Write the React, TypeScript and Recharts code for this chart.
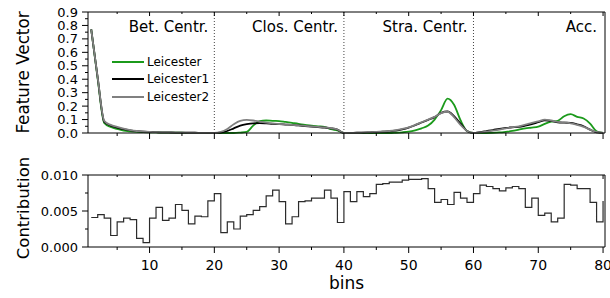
import {
  LineChart, Line, XAxis, YAxis, ReferenceLine, Legend
} from "recharts";

const FONT = "DejaVu Sans";

// bins 1..80 (4 features x 20 bins)
const bins = [
  1, 2, 3, 4, 5, 6, 7, 8, 9, 10, 11, 12, 13, 14, 15, 16, 17, 18, 19, 20,
  21, 22, 23, 24, 25, 26, 27, 28, 29, 30, 31, 32, 33, 34, 35, 36, 37, 38, 39, 40,
  41, 42, 43, 44, 45, 46, 47, 48, 49, 50, 51, 52, 53, 54, 55, 56, 57, 58, 59, 60,
  61, 62, 63, 64, 65, 66, 67, 68, 69, 70, 71, 72, 73, 74, 75, 76, 77, 78, 79, 80,
];

const leicester = [
  0.77, 0.40, 0.075, 0.045, 0.03, 0.018, 0.012, 0.008, 0.006, 0.005,
  0.004, 0.003, 0.003, 0.002, 0.002, 0.001, 0.001, 0.001, 0, 0,
  0, 0, 0, 0.003, 0.008, 0.055, 0.088, 0.093, 0.09, 0.089,
  0.082, 0.075, 0.068, 0.06, 0.055, 0.05, 0.046, 0.028, 0.02, 0,
  0, 0, 0, 0, 0, 0, 0, 0.002, 0.005, 0.01,
  0.02, 0.035, 0.055, 0.1, 0.17, 0.255, 0.21, 0.095, 0.015, 0,
  0, 0, 0.001, 0.004, 0.009, 0.015, 0.025, 0.035, 0.04, 0.047,
  0.068, 0.084, 0.09, 0.125, 0.14, 0.12, 0.108, 0.07, 0.012, 0,
];

const leicester1 = [
  0.77, 0.41, 0.085, 0.055, 0.04, 0.028, 0.02, 0.014, 0.01, 0.008,
  0.006, 0.005, 0.004, 0.003, 0.003, 0.002, 0.002, 0.001, 0.001, 0,
  0.003, 0.015, 0.035, 0.055, 0.066, 0.072, 0.073, 0.071, 0.068, 0.066,
  0.063, 0.06, 0.056, 0.052, 0.048, 0.044, 0.04, 0.035, 0.025, 0,
  0.001, 0.002, 0.003, 0.005, 0.007, 0.01, 0.013, 0.018, 0.027, 0.04,
  0.058, 0.078, 0.098, 0.118, 0.15, 0.16, 0.125, 0.07, 0.015, 0,
  0.006, 0.014, 0.022, 0.031, 0.038, 0.042, 0.046, 0.055, 0.066, 0.08,
  0.094, 0.09, 0.08, 0.077, 0.075, 0.064, 0.05, 0.025, 0.004, 0,
];

const leicester2 = [
  0.77, 0.41, 0.09, 0.06, 0.045, 0.032, 0.022, 0.015, 0.011, 0.008,
  0.006, 0.005, 0.004, 0.003, 0.003, 0.002, 0.002, 0.001, 0.001, 0,
  0.008, 0.03, 0.065, 0.09, 0.097, 0.093, 0.085, 0.077, 0.071, 0.067,
  0.063, 0.06, 0.057, 0.053, 0.049, 0.045, 0.041, 0.036, 0.026, 0,
  0.001, 0.002, 0.004, 0.006, 0.008, 0.011, 0.015, 0.021, 0.03, 0.042,
  0.06, 0.08, 0.1, 0.12, 0.148, 0.158, 0.118, 0.06, 0.015, 0,
  0.004, 0.01, 0.017, 0.025, 0.035, 0.043, 0.05, 0.062, 0.075, 0.086,
  0.1, 0.093, 0.083, 0.078, 0.072, 0.06, 0.045, 0.025, 0.008, 0,
];

const contribution = [
  0.0041, 0.0045, 0.0040, 0.0016, 0.0035, 0.0040, 0.0038, 0.0012, 0.0006, 0.0040,
  0.0055, 0.0037, 0.0040, 0.0059, 0.0051, 0.0032, 0.0043, 0.0042, 0.0064, 0.0074,
  0.0020, 0.0035, 0.0025, 0.0043, 0.0045, 0.0051, 0.0056, 0.0071, 0.0079, 0.0063,
  0.0032, 0.0042, 0.0063, 0.0064, 0.0068, 0.0068, 0.0079, 0.0068, 0.0034, 0.0077,
  0.0063, 0.0077, 0.0070, 0.0074, 0.0087, 0.0088, 0.0090, 0.0090, 0.0093, 0.0094,
  0.0094, 0.0095, 0.0081, 0.0062, 0.0066, 0.0059, 0.0076, 0.0068, 0.0062, 0.0074,
  0.0086, 0.0084, 0.0081, 0.0078, 0.0082, 0.0084, 0.0081, 0.0055, 0.0068, 0.0044,
  0.0047, 0.0035, 0.0040, 0.0087, 0.0086, 0.0081, 0.0081, 0.0062, 0.0035, 0.0064,
];

const xTicks = [5, 10, 15, 20, 25, 30, 35, 40, 45, 50, 55, 60, 65, 70, 75, 80];
const topYTicks = [0, 0.05, 0.1, 0.15, 0.2, 0.25, 0.3, 0.35, 0.4, 0.45, 0.5, 0.55, 0.6, 0.65, 0.7, 0.75, 0.8, 0.85, 0.9];
const bottomYTicks = [0, 0.0025, 0.005, 0.0075, 0.01];

const sectionNames = ["Bet. Centr.", "Clos. Centr.", "Stra. Centr.", "Acc."];
const sectionEnds = [20, 40, 60, 80];

const series = [
  { key: "leicester", name: "Leicester", color: "#1b9a1b" },
  { key: "leicester1", name: "Leicester1", color: "#000000" },
  { key: "leicester2", name: "Leicester2", color: "#808080" },
];

const topData = bins.map((b, i) => ({
  bin: b,
  leicester: leicester[i],
  leicester1: leicester1[i],
  leicester2: leicester2[i],
}));
const bottomData = bins.map((b, i) => ({ bin: b, contribution: contribution[i] }));

const isMajorX = (v: number) => v % 10 === 0;
const isMajorTop = (v: number) => Math.round(v * 100) % 10 === 0;
const isMajorBottom = (v: number) => Math.round(v * 10000) % 50 === 0;

function BottomTick(props: any) {
  const { x, y, payload, showLabel } = props;
  const major = isMajorX(payload.value);
  return (
    <g>
      <line x1={x} y1={y} x2={x} y2={y + (major ? 6 : 3)} stroke="#000" />
      {showLabel && major && (
        <text x={x} y={y + 22.5} textAnchor="middle" fontSize={14} fontFamily={FONT} fill="#000">
          {payload.value}
        </text>
      )}
    </g>
  );
}

function TopTick(props: any) {
  const { x, y, payload } = props;
  const major = isMajorX(payload.value);
  return <line x1={x} y1={y} x2={x} y2={y + (major ? 4 : 2)} stroke="#000" />;
}

function LeftTick(props: any) {
  const { x, y, payload, isMajor, digits } = props;
  const major = isMajor(payload.value);
  return (
    <g>
      <line x1={x - (major ? 6 : 3)} y1={y} x2={x} y2={y} stroke="#000" />
      {major && (
        <text x={x - 10} y={y + 4.6} textAnchor="end" fontSize={13} fontFamily={FONT} fill="#000">
          {payload.value.toFixed(digits)}
        </text>
      )}
    </g>
  );
}

function RightTick(props: any) {
  const { x, y, payload, isMajor } = props;
  const major = isMajor(payload.value);
  return <line x1={x} y1={y} x2={x + (major ? 4 : 2)} y2={y} stroke="#000" />;
}

function YTitle(props: any) {
  const { viewBox, text, fontSize, dy } = props;
  const x = viewBox.x + 29;
  const y = viewBox.y + viewBox.height / 2 + (dy || 0);
  return (
    <text x={x} y={y} transform={`rotate(-90 ${x} ${y})`} textAnchor="middle"
      fontSize={fontSize} fontFamily={FONT} fill="#000">
      {text}
    </text>
  );
}

function XTitle(props: any) {
  const { viewBox, text } = props;
  return (
    <text x={viewBox.x + viewBox.width / 2} y={viewBox.y + 42} textAnchor="middle"
      fontSize={17} fontFamily={FONT} fill="#000">
      {text}
    </text>
  );
}

function SectionLabel(props: any) {
  const { viewBox, text } = props;
  return (
    <text x={viewBox.x - 6} y={viewBox.y + 20} textAnchor="end"
      fontSize={15} fontFamily={FONT} fill="#000">
      {text}
    </text>
  );
}

function renderLegend(props: any) {
  return (
    <div style={{ fontFamily: FONT, fontSize: 12, color: "#000" }}>
      {props.payload.map((e: any) => (
        <div key={e.value} style={{ display: "flex", alignItems: "center", height: 17.5 }}>
          <svg width={32} height={4}>
            <line x1={0} y1={2} x2={32} y2={2} stroke={e.color} strokeWidth={2} />
          </svg>
          <span style={{ marginLeft: 3, lineHeight: "12px" }}>{e.value}</span>
        </div>
      ))}
    </div>
  );
}

const domainX: [number, number] = [0.5, 80.3];

export default function App() {
  return (
    <div style={{ position: "absolute", left: 0, top: 0, width: 610, height: 298, background: "#fff" }}>
      {/* Feature vectors */}
      <div style={{ position: "absolute", left: 0, top: 0 }}>
        <LineChart width={610} height={150} data={topData}
          margin={{ top: 11, right: 0, bottom: 0, left: 0 }}>
          <XAxis dataKey="bin" type="number" domain={domainX} ticks={xTicks} interval={0}
            allowDataOverflow height={17} tickSize={0} tickMargin={0} tickLine={false}
            axisLine={{ stroke: "#000" }} tick={(p: any) => <BottomTick {...p} showLabel={false} />} />
          <XAxis xAxisId="top" orientation="top" dataKey="bin" type="number" domain={domainX}
            ticks={xTicks} interval={0} allowDataOverflow height={1} tickSize={0} tickMargin={0}
            tickLine={false} axisLine={{ stroke: "#000" }} tick={(p: any) => <TopTick {...p} />} />
          <YAxis type="number" domain={[0, 0.9]} ticks={topYTicks} interval={0} width={88}
            tickSize={0} tickMargin={0} tickLine={false} axisLine={{ stroke: "#000" }}
            tick={(p: any) => <LeftTick {...p} isMajor={isMajorTop} digits={1} />}
            label={<YTitle text="Feature Vector" fontSize={16.8} />} />
          <YAxis yAxisId="right" orientation="right" type="number" domain={[0, 0.9]} ticks={topYTicks}
            interval={0} width={5} tickSize={0} tickMargin={0} tickLine={false}
            axisLine={{ stroke: "#000" }} tick={(p: any) => <RightTick {...p} isMajor={isMajorTop} />} />
          {sectionEnds.map((end, i) => (
            <ReferenceLine key={end} x={end} stroke={end === 80 ? "none" : "#444"}
              strokeDasharray="1 2" label={<SectionLabel text={sectionNames[i]} />} />
          ))}
          <Legend layout="vertical" align="center" verticalAlign="middle" content={renderLegend}
            wrapperStyle={{ left: 112, top: 53, width: "auto", height: "auto" }} />
          {series.map(s => (
            <Line key={s.key} type="monotone" dataKey={s.key} name={s.name} stroke={s.color}
              strokeWidth={1.8} dot={false} isAnimationActive={false} />
          ))}
        </LineChart>
      </div>

      {/* Contribution */}
      <div style={{ position: "absolute", left: 0, top: 150 }}>
        <LineChart width={610} height={148} data={bottomData}
          margin={{ top: 24, right: 0, bottom: 0, left: 0 }}>
          <XAxis dataKey="bin" type="number" domain={domainX} ticks={xTicks} interval={0}
            allowDataOverflow height={51} tickSize={0} tickMargin={0} tickLine={false}
            axisLine={{ stroke: "#000" }} tick={(p: any) => <BottomTick {...p} showLabel />}
            label={<XTitle text="bins" />} />
          <XAxis xAxisId="top" orientation="top" dataKey="bin" type="number" domain={domainX}
            ticks={xTicks} interval={0} allowDataOverflow height={1} tickSize={0} tickMargin={0}
            tickLine={false} axisLine={{ stroke: "#000" }} tick={(p: any) => <TopTick {...p} />} />
          <YAxis type="number" domain={[0, 0.01]} ticks={bottomYTicks} interval={0} width={88}
            tickSize={0} tickMargin={0} tickLine={false} axisLine={{ stroke: "#000" }}
            tick={(p: any) => <LeftTick {...p} isMajor={isMajorBottom} digits={3} />}
            label={<YTitle text="Contribution" fontSize={16.5} dy={-3} />} />
          <YAxis yAxisId="right" orientation="right" type="number" domain={[0, 0.01]} ticks={bottomYTicks}
            interval={0} width={5} tickSize={0} tickMargin={0} tickLine={false}
            axisLine={{ stroke: "#000" }} tick={(p: any) => <RightTick {...p} isMajor={isMajorBottom} />} />
          <Line type="stepAfter" dataKey="contribution" stroke="#2b2b2b" strokeWidth={1.2}
            dot={false} isAnimationActive={false} />
        </LineChart>
      </div>
    </div>
  );
}
